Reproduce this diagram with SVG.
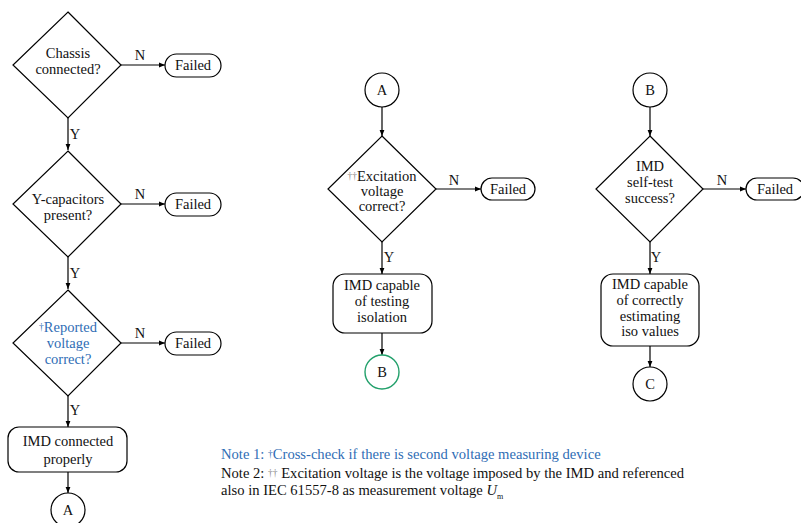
<svg xmlns="http://www.w3.org/2000/svg" width="801" height="523" viewBox="0 0 801 523">
<defs>
<marker id="ah" viewBox="0 0 6 6" refX="6" refY="3" markerWidth="6" markerHeight="6" orient="auto" markerUnits="userSpaceOnUse">
<path d="M0,0.6 L6,3 L0,5.4 z" fill="#000"/>
</marker>
<style>
text{font-family:"Liberation Serif","DejaVu Serif",serif;font-size:14.5px;fill:#111;text-anchor:middle}
.shape{fill:#fff;stroke:#000;stroke-width:1.2}
.green{fill:#fff;stroke:#22a06b;stroke-width:1.4}
.conn{stroke:#000;stroke-width:1.2;fill:none;marker-end:url(#ah)}
.lbl{font-size:14.5px}
.blue{fill:#2f6db5}
.sup{font-size:9.5px;fill:#888}
.note{text-anchor:start;font-size:14.6px}
</style>
</defs>
<rect width="801" height="523" fill="#fff"/>
<g id="connectors">
<path class="conn" d="M121,65 H165"/>
<path class="conn" d="M68,118 V150"/>
<path class="conn" d="M121,204 H165"/>
<path class="conn" d="M68,257 V289"/>
<path class="conn" d="M121,343 H165"/>
<path class="conn" d="M68,396 V427"/>
<path class="conn" d="M68,472 V493"/>
<path class="conn" d="M382,107 V136"/>
<path class="conn" d="M436,189 H481"/>
<path class="conn" d="M382,242 V274"/>
<path class="conn" d="M382,333 V355"/>
<path class="conn" d="M650,107 V136"/>
<path class="conn" d="M703,189 H746"/>
<path class="conn" d="M650,242 V274"/>
<path class="conn" d="M650,346 V367"/>
<text class="lbl" x="140" y="60">N</text>
<text class="lbl" x="75" y="139">Y</text>
<text class="lbl" x="140" y="199">N</text>
<text class="lbl" x="75" y="278">Y</text>
<text class="lbl" x="140" y="338">N</text>
<text class="lbl" x="75" y="415">Y</text>
<text class="lbl" x="454" y="185">N</text>
<text class="lbl" x="389" y="262">Y</text>
<text class="lbl" x="722" y="185">N</text>
<text class="lbl" x="656" y="262">Y</text>
</g>
<g id="d1"><polygon class="shape" points="68,12 121,65 68,118 13,65"/><text x="68" y="58">Chassis</text><text x="68" y="74">connected?</text></g>
<g id="f1"><rect class="shape" x="165" y="54" width="56" height="23" rx="11.5"/><text x="193" y="70">Failed</text></g>
<g id="d2"><polygon class="shape" points="68,151 121,204 68,257 13,204"/><text x="68" y="204">Y-capacitors</text><text x="68" y="220">present?</text></g>
<g id="f2"><rect class="shape" x="165" y="193" width="56" height="23" rx="11.5"/><text x="193" y="209">Failed</text></g>
<g id="d3"><polygon class="shape" points="68,290 121,343 68,396 13,343"/><text x="68" y="332" class="blue"><tspan class="sup" style="fill:#2f6db5" dy="-2">†</tspan><tspan dy="2">Reported</tspan></text><text x="68" y="348" class="blue">voltage</text><text x="68" y="364" class="blue">correct?</text></g>
<g id="f3"><rect class="shape" x="165" y="332" width="56" height="23" rx="11.5"/><text x="193" y="348">Failed</text></g>
<g id="imd1"><rect class="shape" x="8" y="427" width="119" height="45" rx="11"/><text x="68" y="446">IMD connected</text><text x="68" y="464">properly</text></g>
<g id="cA1"><circle class="shape" cx="68" cy="510" r="17"/><text x="68" y="515">A</text></g>
<g id="cA2"><circle class="shape" cx="382" cy="90" r="17"/><text x="382" y="95">A</text></g>
<g id="d4"><polygon class="shape" points="382,136 436,189 382,242 328,189"/><text x="382" y="181"><tspan class="sup" dy="-2">††</tspan><tspan dy="2">Excitation</tspan></text><text x="382" y="196">voltage</text><text x="382" y="211">correct?</text></g>
<g id="f4"><rect class="shape" x="481" y="178" width="54" height="22" rx="11"/><text x="508" y="194">Failed</text></g>
<g id="imd2"><rect class="shape" x="333" y="274" width="99" height="59" rx="12"/><text x="382" y="290">IMD capable</text><text x="382" y="306">of testing</text><text x="382" y="322">isolation</text></g>
<g id="cB1"><circle class="green" cx="382" cy="372" r="17"/><text x="382" y="377">B</text></g>
<g id="cB2"><circle class="shape" cx="650" cy="90" r="17"/><text x="650" y="95">B</text></g>
<g id="d5"><polygon class="shape" points="650,136 703,189 650,242 596,189"/><text x="650" y="171">IMD</text><text x="650" y="187">self-test</text><text x="650" y="203">success?</text></g>
<g id="f5"><rect class="shape" x="746" y="178" width="58" height="22" rx="11"/><text x="775" y="194">Failed</text></g>
<g id="imd3"><rect class="shape" x="601" y="274" width="98" height="72" rx="12"/><text x="650" y="289">IMD capable</text><text x="650" y="305">of correctly</text><text x="650" y="321">estimating</text><text x="650" y="336">iso values</text></g>
<g id="cC"><circle class="shape" cx="650" cy="384" r="17"/><text x="650" y="389">C</text></g>
<g id="notes">
<text class="note blue" x="221" y="459">Note 1: <tspan font-size="9.5" dy="-2">†</tspan><tspan dy="2">Cross-check if there is second voltage measuring device</tspan></text>
<text class="note" x="221" y="478">Note 2: <tspan class="sup" dy="-2">††</tspan><tspan dy="2"> Excitation voltage is the voltage imposed by the IMD and referenced</tspan></text>
<text class="note" x="221" y="495">also in IEC 61557-8 as measurement voltage <tspan font-style="italic">U</tspan><tspan font-size="8" dy="4">m</tspan></text>
</g>
</svg>
